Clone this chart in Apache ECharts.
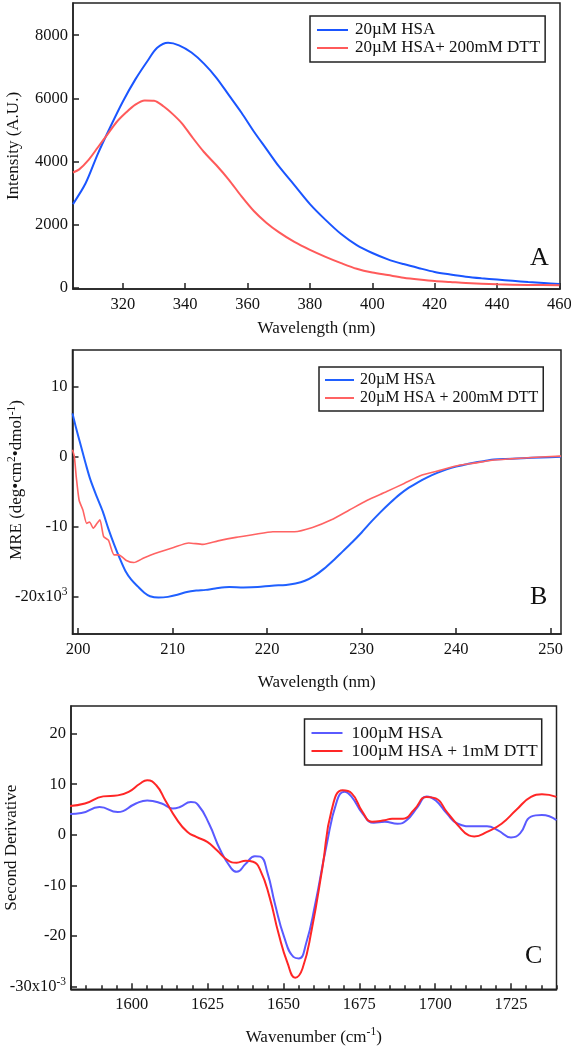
<!DOCTYPE html>
<html>
<head>
<meta charset="utf-8">
<script src="https://cdn.jsdelivr.net/npm/echarts@6/dist/echarts.min.js"></script>
<style>
html,body{margin:0;padding:0;background:#fff;}
#chart{width:571px;height:1050px;}
</style>
</head>
<body>
<div id="chart"></div>
<script>
// ---------- Panel A: fluorescence ----------
const A_X_HSA = [304,308,312,316,320,324,328,331,334.5,338,342,346,350,354,358,362,366,370,375,380,385,390,395,400,405,410,415,420,425,430,435,440,445,450,455,460];
const A_Y_HSA = [2650,3300,4250,5100,5900,6600,7200,7600,7760,7680,7450,7100,6650,6100,5550,4950,4400,3850,3250,2650,2150,1700,1350,1100,900,750,620,500,420,350,300,260,220,180,150,120];
const A_X_DTT = [304,306,309,312,315,318,321,324,327,330,333,336,339,342,346,350,354,358,362,366,370,375,380,385,390,395,400,405,410,415,420,425,430,440,450,460];
const A_Y_DTT = [3650,3750,4050,4450,4850,5250,5550,5800,5930,5920,5750,5500,5200,4800,4300,3880,3420,2900,2430,2060,1760,1450,1200,980,780,600,480,400,320,260,210,180,150,110,90,80];
const A_X_TICKS = [320,340,360,380,400,420,440,460];
const A_Y_TICKS = [0,2000,4000,6000,8000];
const A_NAMES = ['20µM HSA','20µM HSA+ 200mM DTT'];

// ---------- Panel B: CD ----------
const B_X_HSA = [199.4,199.8,200.3,200.8,201.3,202,202.6,203.2,203.8,204.4,205,205.6,206.3,207,207.6,208.5,209.5,210.5,211.5,212.5,213.5,214.5,216,217.5,219,220.5,222,223,224,225,226,227,228,229,230,231,232,233,234,235,236,237,238,239,240,241,242,243,244,245,247,249,251.1];
const B_Y_HSA = [6.2,4,1.5,-1,-3.3,-5.8,-7.8,-10.3,-12.5,-14.5,-16.3,-17.5,-18.5,-19.4,-19.9,-20.1,-20,-19.7,-19.3,-19.1,-19,-18.8,-18.6,-18.65,-18.6,-18.4,-18.3,-18.1,-17.7,-17,-16,-14.8,-13.5,-12.2,-10.8,-9.3,-7.9,-6.6,-5.4,-4.4,-3.6,-2.9,-2.3,-1.8,-1.4,-1.1,-0.8,-0.6,-0.4,-0.3,-0.2,-0.1,0];
const B_X_DTT = [199.4,199.6,199.8,200.1,200.5,200.9,201.2,201.6,202,202.3,202.7,203.2,203.8,204.3,205.1,205.9,207,208.6,210.1,211.7,213.2,214.8,216.7,218.6,220.6,222.9,224.8,226.8,228.7,230.6,232.6,234.5,236.4,238.4,240.3,241.9,243.8,245.7,248,251.1];
const B_Y_DTT = [1,0,-2.9,-6.2,-7.6,-9.5,-9.3,-10.2,-9.5,-9,-11.4,-11.9,-14,-14,-14.8,-15.1,-14.4,-13.6,-12.95,-12.3,-12.5,-12,-11.5,-11.1,-10.7,-10.7,-10.1,-9,-7.6,-6.2,-5,-3.8,-2.6,-1.9,-1.2,-0.9,-0.5,-0.3,-0.1,0.1];
const B_X_TICKS = [200,210,220,230,240,250];
const B_Y_TICKS = [-20,-10,0,10];
const B_NAMES = ['20µM HSA','20µM HSA + 200mM DTT'];

// ---------- Panel C: FTIR second derivative ----------
const C_X_HSA = [1579,1583.4,1589.4,1595.4,1601.4,1605.1,1609.9,1613.5,1615.9,1619.5,1621.9,1625.5,1629.2,1632.8,1634.6,1637.6,1640.6,1642.4,1644.8,1647.2,1650.2,1653.3,1655.1,1657.5,1660.5,1664.1,1667.7,1670.1,1672.5,1676.1,1679.8,1683.4,1687.6,1690.6,1694.2,1697.2,1700.2,1703.9,1707.5,1712.3,1717.1,1720.7,1725,1728,1731.6,1735.2,1740];
const C_Y_HSA = [4.1,4.3,5.5,4.5,6.2,6.8,6.2,5.2,5.5,6.5,5.9,2.2,-3,-6.6,-7.3,-5.7,-4.2,-4.3,-7.6,-13.6,-20.1,-24.1,-24.4,-21.4,-13.6,-2.4,6.8,8.5,7.5,4.2,2.4,2.6,2.2,2.9,5.5,7.6,6.8,4.2,2.2,1.7,1.7,0.9,-0.5,0.3,3.6,3.9,2.9];
const C_X_DTT = [1579,1584.6,1590.6,1595.4,1599,1602.7,1605.1,1608.1,1611.1,1614.7,1618.3,1621.3,1624.9,1628,1631.6,1634.6,1637.6,1640,1642.4,1645.4,1648.4,1651.4,1653.9,1656.3,1659.3,1662.9,1665.9,1669.5,1672.5,1676.1,1679.2,1683.4,1685.8,1689.4,1693,1697.2,1700.2,1703.9,1707.5,1711.1,1712.9,1717.1,1721.9,1726.7,1731.6,1735.2,1740];
const C_Y_DTT = [5.7,6.2,7.6,7.8,8.5,10.1,10.8,9.8,6.8,3.2,0.6,-0.4,-1.4,-3,-5,-5.5,-5.1,-5.3,-7,-12.2,-19.5,-25.4,-28.2,-26.4,-18.8,-6.3,4.9,8.8,8.2,4.5,2.6,2.9,3.2,3.2,4.9,7.5,7.2,4.5,1.9,-0.1,-0.3,0.6,2.2,4.9,7.5,8,7.5];
const C_X_TICKS = [1600,1625,1650,1675,1700,1725];
const C_X_MINOR = [1580,1585,1590,1595,1605,1610,1615,1620,1630,1635,1640,1645,1655,1660,1665,1670,1680,1685,1690,1695,1705,1710,1715,1720,1730,1735,1740];
const C_Y_TICKS = [-30,-20,-10,0,10,20];
const C_NAMES = ['100µM HSA','100µM HSA + 1mM DTT'];

const FONT = '"Liberation Serif", "DejaVu Serif", serif';
const zip = (xs, ys) => xs.map((x, i) => [x, ys[i]]);

const chart = echarts.init(document.getElementById('chart'), null, {renderer: 'canvas'});

function richSet(size) {
  return {
    n: {fontFamily: FONT, fontSize: size, color: '#111', lineHeight: 22},
    s: {fontFamily: FONT, fontSize: 11.5, color: '#111', lineHeight: 11, verticalAlign: 'top'},
    p: {width: 24, lineHeight: 22}
  };
}

function xAxisBase(gridIndex, min, max, ticks, name, nameGap) {
  return {
    type: 'value', gridIndex, min, max, name, nameLocation: 'middle', nameGap, position: 'bottom', offset: 0,
    nameMoveOverlap: false,
    nameTextStyle: {fontFamily: FONT, fontSize: 17, color: '#111', rich: richSet(17)},
    axisLine: {show: true, onZero: false, lineStyle: {color: '#222', width: 1.5}},
    axisTick: {show: true, inside: true, length: 6, customValues: ticks, lineStyle: {color: '#222', width: 1.5}},
    axisLabel: {show: true, margin: 7, customValues: ticks, fontFamily: FONT, fontSize: 16.5, color: '#111',
      formatter: v => String(v)},
    splitLine: {show: false}
  };
}
function yAxisBase(gridIndex, min, max, ticks, name, nameGap, fmt) {
  return {
    type: 'value', gridIndex, min, max, name, nameLocation: 'middle', nameGap, nameRotate: 90,
    nameMoveOverlap: false,
    nameTextStyle: {fontFamily: FONT, fontSize: 17, color: '#111', rich: richSet(17)},
    axisLine: {show: true, onZero: false, lineStyle: {color: '#222', width: 1.5}},
    axisTick: {show: true, inside: true, length: 6, customValues: ticks, lineStyle: {color: '#222', width: 1.5}},
    axisLabel: {show: true, margin: 5, customValues: ticks, fontFamily: FONT, fontSize: 16.5, color: '#111',
      rich: richSet(16.5), formatter: fmt},
    splitLine: {show: false}
  };
}
function line(name, xi, yi, xs, ys, color, width, smooth) {
  return {
    name, type: 'line', xAxisIndex: xi, yAxisIndex: yi, data: zip(xs, ys),
    showSymbol: false, symbol: 'none', smooth, animation: false,
    lineStyle: {color, width}, itemStyle: {color}
  };
}
function legend(names, colors, left, top, pad, fontSize, itemWidth, textPad) {
  return {
    show: true, orient: 'vertical', left, top, icon: 'rect', itemWidth, itemHeight: 2, itemGap: 0,
    padding: pad, borderColor: '#222', borderWidth: 1.5, backgroundColor: '#fff',
    selectedMode: false,
    textStyle: {fontFamily: FONT, fontSize, color: '#111', lineHeight: 18, padding: [0, 0, 0, textPad]},
    data: names.map((n, i) => ({name: n, itemStyle: {color: colors[i]}}))
  };
}

const A_COL = ['#1a55ff', '#ff5a5a'];
const B_COL = ['#2060ff', '#ff6363'];
const C_COL = ['#5a5aff', '#ff2626'];

const gridStyle = {show: true, borderColor: '#222', borderWidth: 1.5, backgroundColor: 'transparent',
  containLabel: false, outerBoundsMode: 'none'};

const option = {
  animation: false,
  backgroundColor: '#fff',
  grid: [
    Object.assign({left: 73, top: 3, width: 487, height: 286}, gridStyle),
    Object.assign({left: 72.5, top: 350, width: 488.5, height: 284}, gridStyle),
    Object.assign({left: 71, top: 706, width: 485.5, height: 283.3}, gridStyle)
  ],
  xAxis: [
    xAxisBase(0, 304, 460.2, A_X_TICKS, 'Wavelength (nm)', 31),
    xAxisBase(1, 199.4, 251.1, B_X_TICKS, 'Wavelength (nm)', 40),
    xAxisBase(2, 1580, 1740, C_X_TICKS, '{n|Wavenumber (cm}{s|-1}{n|)}', 37),
    Object.assign(xAxisBase(2, 1580, 1740, C_X_MINOR, '', 0), {
      axisLine: {show: false, onZero: false},
      axisTick: {show: true, inside: true, length: 4, customValues: C_X_MINOR, lineStyle: {color: '#222', width: 1.5}},
      axisLabel: {show: false}
    })
  ],
  yAxis: [
    yAxisBase(0, -40, 9020, A_Y_TICKS, 'Intensity (A.U.)', 51, v => String(v)),
    yAxisBase(1, -25.3, 15.25, B_Y_TICKS, '{p|}{n|MRE (deg•cm}{s|2}{n|•dmol}{s|-1}{n|)}', 45,
      v => v === -20 ? '{n|-20x10}{s|3}' : '{n|' + v + '}'),
    yAxisBase(2, -30.5, 25.45, C_Y_TICKS, 'Second Derivative', 51,
      v => v === -30 ? '{n|-30x10}{s|-3}' : '{n|' + v + '}')
  ],
  legend: [
    legend(A_NAMES, A_COL, 310, 16, [5, 5, 5, 7], 17, 31, 2),
    legend(B_NAMES, B_COL, 319, 367, [4, 5, 4, 6], 16, 29, 1),
    legend(C_NAMES, C_COL, 304.5, 719, [5, 4, 5, 7], 17.5, 31, 4)
  ],
  series: [
    line(A_NAMES[0], 0, 0, A_X_HSA, A_Y_HSA, A_COL[0], 2, 0.3),
    line(A_NAMES[1], 0, 0, A_X_DTT, A_Y_DTT, A_COL[1], 2, 0.3),
    line(B_NAMES[0], 1, 1, B_X_HSA, B_Y_HSA, B_COL[0], 2, 0.3),
    line(B_NAMES[1], 1, 1, B_X_DTT, B_Y_DTT, B_COL[1], 1.6, 0.2),
    line(C_NAMES[0], 2, 2, C_X_HSA, C_Y_HSA, C_COL[0], 2, 0.5),
    line(C_NAMES[1], 2, 2, C_X_DTT, C_Y_DTT, C_COL[1], 2, 0.5)
  ],
  graphic: [
    {type: 'text', left: 530, top: 245, style: {text: 'A', font: '26px ' + FONT, fill: '#111'}},
    {type: 'text', left: 530, top: 584, style: {text: 'B', font: '26px ' + FONT, fill: '#111'}},
    {type: 'text', left: 525, top: 943, style: {text: 'C', font: '26px ' + FONT, fill: '#111'}}
  ]
};
chart.setOption(option);
</script>
</body>
</html>
